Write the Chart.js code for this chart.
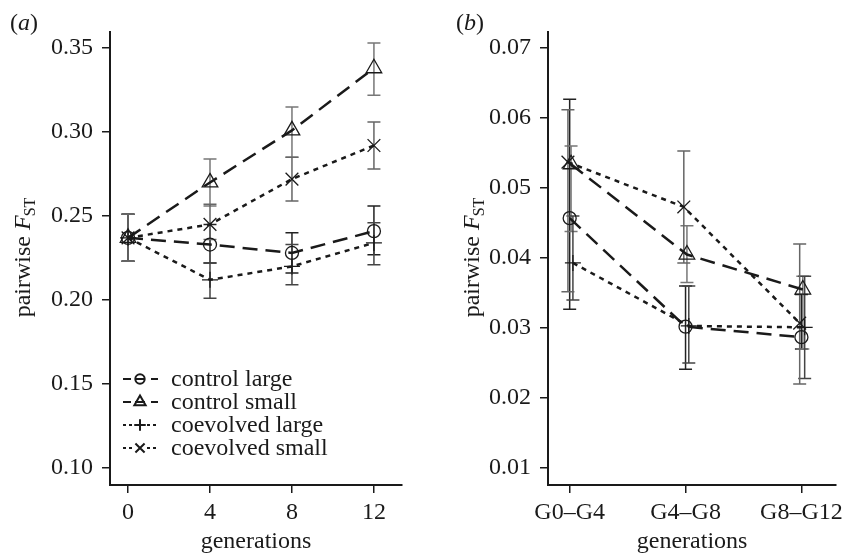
<!DOCTYPE html>
<html>
<head>
<meta charset="utf-8">
<script src="https://cdn.jsdelivr.net/npm/chart.js@4.4.1/dist/chart.umd.min.js"></script>
<style>
  html, body { margin: 0; padding: 0; background: #fff; }
  #wrap { width: 849px; height: 553px; position: relative; }
  .panel { position: absolute; top: 0; height: 553px; }
  #pa { left: 0; width: 424px; }
  #pb { left: 424px; width: 425px; }
</style>
</head>
<body>
<div id="wrap">
  <div class="panel" id="pa"><canvas id="chartA" width="424" height="553"></canvas></div>
  <div class="panel" id="pb"><canvas id="chartB" width="425" height="553"></canvas></div>
</div>
<script>
const seriesNames = ['control large', 'control small', 'coevolved large', 'coevolved small'];

// (a) pairwise Fst against generation
const genA = [0, 4, 8, 12];
const ctrlLargeA = [0.237, 0.233, 0.228, 0.241];
const ctrlSmallA = [0.237, 0.270, 0.301, 0.338];
const coevLargeA = [0.237, 0.212, 0.220, 0.234];
const coevSmallA = [0.237, 0.245, 0.272, 0.292];
// error bars as [low, high]
const ctrlLargeErrA = [[0.223, 0.251], [0.222, 0.245], [0.216, 0.240], [0.227, 0.256]];
const ctrlSmallErrA = [[0.223, 0.251], [0.256, 0.284], [0.285, 0.315], [0.322, 0.353]];
const coevLargeErrA = [[0.223, 0.251], [0.201, 0.222], [0.209, 0.233], [0.221, 0.246]];
const coevSmallErrA = [[0.223, 0.251], [0.236, 0.257], [0.259, 0.285], [0.278, 0.306]];
const yTicksA = [0.10, 0.15, 0.20, 0.25, 0.30, 0.35];

// (b) pairwise Fst between generation pairs
const pairLabelsB = ['G0\u2013G4', 'G4\u2013G8', 'G8\u2013G12'];
const dodgeB = [0, 0.012, 0.028, -0.015];
const ctrlLargeB = [0.0457, 0.0302, 0.0287];
const ctrlSmallB = [0.0534, 0.0405, 0.0355];
const coevLargeB = [0.0393, 0.0303, 0.0301];
const coevSmallB = [0.0537, 0.0473, 0.0307];
const ctrlLargeErrB = [[0.0327, 0.0627], [0.0241, 0.0360], [0.0270, 0.0348]];
const ctrlSmallErrB = [[0.0438, 0.0560], [0.0365, 0.0446], [0.0270, 0.0374]];
const coevLargeErrB = [[0.0340, 0.0460], [0.0250, 0.0360], [0.0228, 0.0374]];
const coevSmallErrB = [[0.0352, 0.0612], [0.0393, 0.0553], [0.0220, 0.0420]];
const yTicksB = [0.01, 0.02, 0.03, 0.04, 0.05, 0.06, 0.07];

const SERIF = '"Liberation Serif", "Times New Roman", serif';
const INK = '#1a1a1a';
const styles = [
  { dash: [15, 8], point: 'circle', r: 6.5, err: '#222' },
  { dash: [15, 8], point: 'triangle', r: 9, err: '#777' },
  { dash: [5, 5], point: 'cross', r: 8, err: '#444' },
  { dash: [5, 5], point: 'crossRot', r: 9, err: '#666' }
];

function makeSets(xs, ys, errs, dodge) {
  return ys.map((vals, i) => ({
    label: seriesNames[i],
    data: vals.map((v, j) => ({ x: xs[j] + (dodge ? dodge[i] : 0), y: v })),
    errs: errs[i],
    errColor: styles[i].err,
    borderColor: INK,
    borderWidth: 2.5,
    borderDash: styles[i].dash,
    pointStyle: styles[i].point,
    pointRadius: styles[i].r,
    pointBorderColor: INK,
    pointBorderWidth: 1.3,
    pointBackgroundColor: 'rgba(0,0,0,0)',
    fill: false,
    tension: 0,
    clip: false
  }));
}

// vertical error bars with caps, drawn under the lines
const errBars = {
  id: 'errBars',
  beforeDatasetsDraw(chart) {
    const ctx = chart.ctx, xs = chart.scales.x, ys = chart.scales.y;
    ctx.save();
    ctx.lineWidth = 1.5;
    chart.data.datasets.forEach(ds => {
      ctx.strokeStyle = ds.errColor;
      ds.data.forEach((p, j) => {
        const x = xs.getPixelForValue(p.x);
        const lo = ys.getPixelForValue(ds.errs[j][0]);
        const hi = ys.getPixelForValue(ds.errs[j][1]);
        ctx.beginPath();
        ctx.moveTo(x, lo); ctx.lineTo(x, hi);
        ctx.moveTo(x - 6.5, lo); ctx.lineTo(x + 6.5, lo);
        ctx.moveTo(x - 6.5, hi); ctx.lineTo(x + 6.5, hi);
        ctx.stroke();
      });
    });
    ctx.restore();
  }
};

// panel letter, y title with italic F and subscript, optional legend
const decor = {
  id: 'decor',
  afterDraw(chart, args, opts) {
    const ctx = chart.ctx;
    ctx.save();
    ctx.fillStyle = INK;
    ctx.textBaseline = 'alphabetic';
    // panel letter
    ctx.font = '24px ' + SERIF;
    let x = opts.letterX;
    ctx.fillText('(', x, 30); x += ctx.measureText('(').width;
    ctx.font = 'italic 24px ' + SERIF;
    ctx.fillText(opts.letter, x, 30); x += ctx.measureText(opts.letter).width;
    ctx.font = '24px ' + SERIF;
    ctx.fillText(')', x, 30);

    // y axis title
    const a = '24px ' + SERIF, b = 'italic 24px ' + SERIF, c = '16px ' + SERIF;
    ctx.font = a; const w1 = ctx.measureText('pairwise ').width;
    ctx.font = b; const w2 = ctx.measureText('F').width;
    ctx.font = c; const w3 = ctx.measureText('ST').width;
    const total = w1 + w2 + w3;
    ctx.translate(opts.titleX, 257);
    ctx.rotate(-Math.PI / 2);
    let tx = -total / 2;
    ctx.font = a; ctx.fillText('pairwise ', tx, 0); tx += w1;
    ctx.font = b; ctx.fillText('F', tx, 0); tx += w2;
    ctx.font = c; ctx.fillText('ST', tx - 1, 5);
    ctx.setTransform(1, 0, 0, 1, 0, 0);

    // legend
    if (opts.legend) {
      ctx.font = '24px ' + SERIF;
      ctx.textBaseline = 'middle';
      chart.data.datasets.forEach((ds, i) => {
        const y = 379 + i * 23;
        ctx.strokeStyle = INK;
        ctx.lineWidth = 2;
        ctx.setLineDash(i < 2 ? [8, 6] : [3, 3]);
        ctx.beginPath(); ctx.moveTo(123, y); ctx.lineTo(158, y); ctx.stroke();
        ctx.setLineDash([]);
        ctx.fillStyle = '#fff';
        ctx.fillRect(133, y - 7, 14, 14);
        ctx.fillStyle = 'rgba(0,0,0,0)';
        Chart.helpers.drawPoint(ctx, {
          pointStyle: ds.pointStyle, radius: ds.pointRadius * 0.72,
          rotation: 0, borderWidth: 1.8
        }, 140, y);
        if (i < 2) {
          ctx.beginPath(); ctx.moveTo(135, y); ctx.lineTo(145, y); ctx.stroke();
        }
        ctx.fillStyle = INK;
        ctx.fillText(ds.label, 171, y + 1);
      });
    }
    ctx.restore();
  }
};

function axisCommon() {
  return {
    grid: { display: true, drawOnChartArea: false, drawTicks: true, tickLength: 8, color: INK, lineWidth: 1.5 },
    border: { display: true, color: INK, width: 2 },
    ticks: { color: INK, font: { family: SERIF, size: 24 } }
  };
}

function buildChart(id, sets, cfg) {
  const xAxis = axisCommon();
  xAxis.type = 'linear';
  xAxis.min = cfg.xMin; xAxis.max = cfg.xMax;
  xAxis.ticks.padding = 5;
  xAxis.ticks.maxRotation = 0;
  xAxis.ticks.autoSkip = false;
  xAxis.ticks.callback = cfg.xLabel;
  xAxis.afterBuildTicks = s => { s.ticks = cfg.xTicks.map(v => ({ value: v })); };
  xAxis.afterFit = s => { s.height = 68; };
  xAxis.title = { display: true, text: 'generations', color: INK,
    font: { family: SERIF, size: 24, lineHeight: 1 }, padding: { top: 0, bottom: -1 } };

  const yAxis = axisCommon();
  yAxis.min = cfg.yMin; yAxis.max = cfg.yMax;
  yAxis.ticks.padding = 9;
  yAxis.ticks.autoSkip = false;
  yAxis.ticks.callback = v => v.toFixed(2);
  yAxis.afterBuildTicks = s => { s.ticks = cfg.yTicks.map(v => ({ value: v })); };
  yAxis.afterFit = s => { s.width = cfg.yWidth; };

  return new Chart(document.getElementById(id), {
    type: 'line',
    data: { datasets: sets },
    options: {
      responsive: false,
      animation: false,
      events: [],
      layout: { padding: { top: 32, right: cfg.padRight, left: 0, bottom: 0 } },
      scales: { x: xAxis, y: yAxis },
      plugins: {
        legend: { display: false },
        tooltip: { enabled: false },
        decor: cfg.decor
      }
    },
    plugins: [errBars, decor]
  });
}

buildChart('chartA',
  makeSets(genA, [ctrlLargeA, ctrlSmallA, coevLargeA, coevSmallA],
    [ctrlLargeErrA, ctrlSmallErrA, coevLargeErrA, coevSmallErrA]),
  {
    xMin: -0.88, xMax: 13.37, xTicks: genA, xLabel: v => String(v),
    yMin: 0.0898, yMax: 0.3596, yTicks: yTicksA, yWidth: 110, padRight: 22,
    decor: { letter: 'a', letterX: 10, titleX: 30, legend: true }
  });

buildChart('chartB',
  makeSets([0, 1, 2], [ctrlLargeB, ctrlSmallB, coevLargeB, coevSmallB],
    [ctrlLargeErrB, ctrlSmallErrB, coevLargeErrB, coevSmallErrB], dodgeB),
  {
    xMin: -0.187, xMax: 2.30, xTicks: [0, 1, 2], xLabel: v => pairLabelsB[v],
    yMin: 0.00757, yMax: 0.0723, yTicks: yTicksB, yWidth: 124, padRight: 9,
    decor: { letter: 'b', letterX: 32, titleX: 55, legend: false }
  });
</script>
</body>
</html>
